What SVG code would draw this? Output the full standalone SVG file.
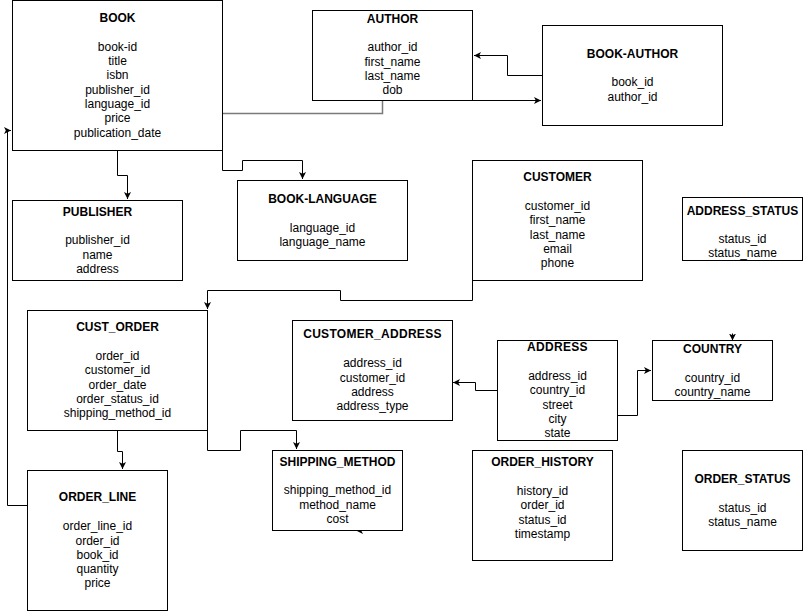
<svg xmlns="http://www.w3.org/2000/svg" width="803" height="611" viewBox="0 0 803 611">
  <style>
    .box { fill: #ffffff; stroke: #000000; stroke-width: 1; }
    .title { font-family: "Liberation Sans", Arial, sans-serif; font-size: 12px; font-weight: bold; text-anchor: middle; fill: #000; }
    .field { font-family: "Liberation Sans", Arial, sans-serif; font-size: 12px; text-anchor: middle; fill: #000; }
    .link { fill: none; stroke: #000000; stroke-width: 1; }
    .link-grey { fill: none; stroke: #7a7a7a; stroke-width: 1.5; }
  </style>
  <defs>
    <marker id="arrow" markerWidth="8" markerHeight="8" refX="7" refY="4" orient="auto" markerUnits="userSpaceOnUse">
      <path d="M0,0.5 L7,4 L0,7.5 L1.8,4 Z" fill="#000"/>
    </marker>
  </defs>
  <rect width="803" height="611" fill="#ffffff"/>

  <!-- relationship lines -->
  <g id="connectors">
    <!-- book-author to author -->
    <path class="link" d="M542.5,75.5 H507.5 V55.5 H474" marker-end="url(#arrow)"/>
    <!-- author to book-author -->
    <path class="link" d="M472.5,100.5 H541" marker-end="url(#arrow)"/>
    <!-- book to author -->
    <path class="link-grey" d="M222.5,113.5 H382.5 V100.5"/>
    <!-- book to publisher -->
    <path class="link" d="M117.5,150.5 V175.5 H127.5 V199" marker-end="url(#arrow)"/>
    <!-- book to book-language -->
    <path class="link" d="M222.5,150.5 V170.5 H242.5 V160.5 H302.5 V179" marker-end="url(#arrow)"/>
    <!-- customer to cust_order -->
    <path class="link" d="M472.5,280.5 V300.5 H340.5 V290.5 H207.5 V309" marker-end="url(#arrow)"/>
    <!-- cust_order to shipping_method -->
    <path class="link" d="M207.5,430.5 V450.5 H240.5 V430.5 H296.5 V449" marker-end="url(#arrow)"/>
    <!-- cust_order to order_line -->
    <path class="link" d="M117.5,430.5 V451.5 H122.5 V469" marker-end="url(#arrow)"/>
    <!-- order_line to book -->
    <path class="link" d="M27.5,505.5 H7.5 V130.5 H11" marker-end="url(#arrow)"/>
    <!-- address to customer_address -->
    <path class="link" d="M497.5,390.5 H475.5 V382.5 H453" marker-end="url(#arrow)"/>
    <!-- address to country -->
    <path class="link" d="M617.5,415.5 H637.5 V370.5 H651" marker-end="url(#arrow)"/>
    <!-- loose arrowheads -->
    <path class="link" d="M364,530.5 H356" marker-end="url(#arrow)"/>
    <path class="link" d="M732.5,333.5 V340.5" marker-end="url(#arrow)"/>
  </g>

  <g id="book">
    <rect class="box" x="12.5" y="0.5" width="210" height="150"/>
    <text class="title" x="117.5" y="22">BOOK</text>
    <text class="field" x="117.5" y="51">book-id</text>
    <text class="field" x="117.5" y="65">title</text>
    <text class="field" x="117.5" y="79">isbn</text>
    <text class="field" x="117.5" y="94">publisher_id</text>
    <text class="field" x="117.5" y="108">language_id</text>
    <text class="field" x="117.5" y="122">price</text>
    <text class="field" x="117.5" y="137">publication_date</text>
  </g>

  <g id="author">
    <rect class="box" x="312.5" y="10.5" width="160" height="90"/>
    <text class="title" x="392.5" y="23">AUTHOR</text>
    <text class="field" x="392.5" y="51">author_id</text>
    <text class="field" x="392.5" y="66">first_name</text>
    <text class="field" x="392.5" y="80">last_name</text>
    <text class="field" x="392.5" y="94">dob</text>
  </g>

  <g id="book-author">
    <rect class="box" x="542.5" y="25.5" width="180" height="100"/>
    <text class="title" x="632.5" y="58">BOOK-AUTHOR</text>
    <text class="field" x="632.5" y="86">book_id</text>
    <text class="field" x="632.5" y="101">author_id</text>
  </g>

  <g id="publisher">
    <rect class="box" x="12.5" y="200.5" width="170" height="80"/>
    <text class="title" x="97.5" y="216">PUBLISHER</text>
    <text class="field" x="97.5" y="244">publisher_id</text>
    <text class="field" x="97.5" y="259">name</text>
    <text class="field" x="97.5" y="273">address</text>
  </g>

  <g id="book-language">
    <rect class="box" x="237.5" y="180.5" width="170" height="80"/>
    <text class="title" x="322.5" y="203">BOOK-LANGUAGE</text>
    <text class="field" x="322.5" y="232">language_id</text>
    <text class="field" x="322.5" y="246">language_name</text>
  </g>

  <g id="customer">
    <rect class="box" x="472.5" y="160.5" width="170" height="120"/>
    <text class="title" x="557.5" y="181">CUSTOMER</text>
    <text class="field" x="557.5" y="210">customer_id</text>
    <text class="field" x="557.5" y="224">first_name</text>
    <text class="field" x="557.5" y="239">last_name</text>
    <text class="field" x="557.5" y="253">email</text>
    <text class="field" x="557.5" y="267">phone</text>
  </g>

  <g id="address_status">
    <rect class="box" x="682.5" y="197.5" width="120" height="63"/>
    <text class="title" x="742.5" y="215">ADDRESS_STATUS</text>
    <text class="field" x="742.5" y="243">status_id</text>
    <text class="field" x="742.5" y="257">status_name</text>
  </g>

  <g id="cust_order">
    <rect class="box" x="27.5" y="310.5" width="180" height="120"/>
    <text class="title" x="117.5" y="331">CUST_ORDER</text>
    <text class="field" x="117.5" y="360">order_id</text>
    <text class="field" x="117.5" y="374">customer_id</text>
    <text class="field" x="117.5" y="389">order_date</text>
    <text class="field" x="117.5" y="403">order_status_id</text>
    <text class="field" x="117.5" y="417">shipping_method_id</text>
  </g>

  <g id="customer_address">
    <rect class="box" x="292.5" y="320.5" width="160" height="100"/>
    <text class="title" x="372.5" y="338" letter-spacing="0.3">CUSTOMER_ADDRESS</text>
    <text class="field" x="372.5" y="367">address_id</text>
    <text class="field" x="372.5" y="382">customer_id</text>
    <text class="field" x="372.5" y="396">address</text>
    <text class="field" x="372.5" y="410">address_type</text>
  </g>

  <g id="address">
    <rect class="box" x="497.5" y="340.5" width="120" height="100"/>
    <text class="title" x="557.5" y="351" letter-spacing="0.3">ADDRESS</text>
    <text class="field" x="557.5" y="380">address_id</text>
    <text class="field" x="557.5" y="394">country_id</text>
    <text class="field" x="557.5" y="409">street</text>
    <text class="field" x="557.5" y="423">city</text>
    <text class="field" x="557.5" y="437">state</text>
  </g>

  <g id="country">
    <rect class="box" x="652.5" y="340.5" width="120" height="60"/>
    <text class="title" x="712.5" y="353">COUNTRY</text>
    <text class="field" x="712.5" y="382">country_id</text>
    <text class="field" x="712.5" y="396">country_name</text>
  </g>

  <g id="shipping_method">
    <rect class="box" x="272.5" y="450.5" width="130" height="80"/>
    <text class="title" x="337.5" y="466">SHIPPING_METHOD</text>
    <text class="field" x="337.5" y="494">shipping_method_id</text>
    <text class="field" x="337.5" y="509">method_name</text>
    <text class="field" x="337.5" y="523">cost</text>
  </g>

  <g id="order_line">
    <rect class="box" x="27.5" y="470.5" width="140" height="140"/>
    <text class="title" x="97.5" y="501">ORDER_LINE</text>
    <text class="field" x="97.5" y="530">order_line_id</text>
    <text class="field" x="97.5" y="545">order_id</text>
    <text class="field" x="97.5" y="559">book_id</text>
    <text class="field" x="97.5" y="573">quantity</text>
    <text class="field" x="97.5" y="587">price</text>
  </g>

  <g id="order_history">
    <rect class="box" x="472.5" y="450.5" width="140" height="110"/>
    <text class="title" x="542.5" y="466">ORDER_HISTORY</text>
    <text class="field" x="542.5" y="495">history_id</text>
    <text class="field" x="542.5" y="509">order_id</text>
    <text class="field" x="542.5" y="524">status_id</text>
    <text class="field" x="542.5" y="538">timestamp</text>
  </g>

  <g id="order_status">
    <rect class="box" x="682.5" y="450.5" width="120" height="100"/>
    <text class="title" x="742.5" y="483">ORDER_STATUS</text>
    <text class="field" x="742.5" y="512">status_id</text>
    <text class="field" x="742.5" y="526">status_name</text>
  </g>
</svg>
